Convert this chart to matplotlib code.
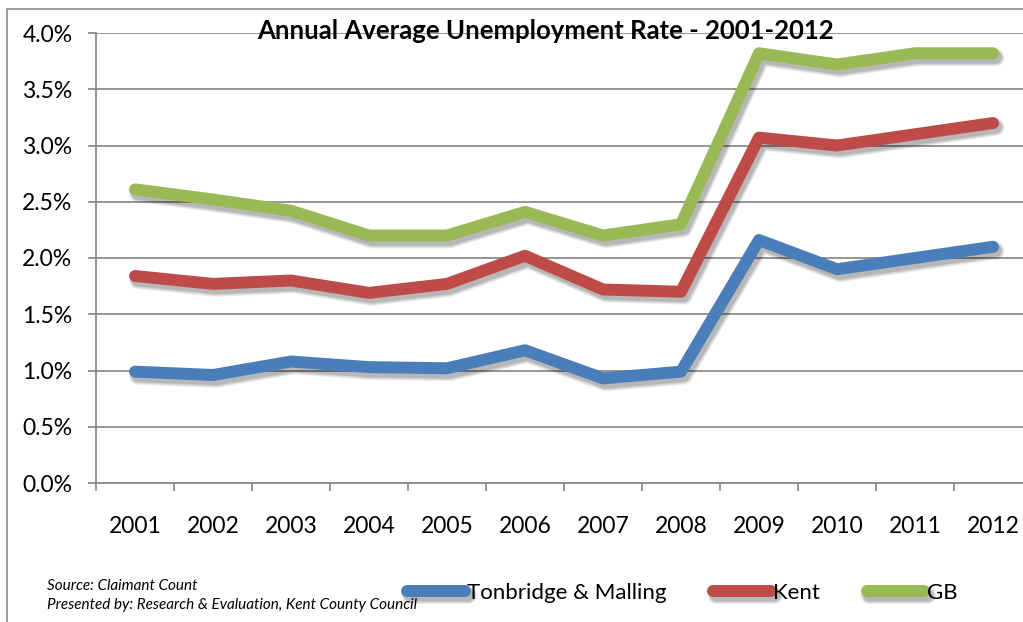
import matplotlib.pyplot as plt
import matplotlib.patheffects as pe
from matplotlib.patches import Rectangle
from matplotlib.ticker import FuncFormatter
import numpy as np

years = ["2001", "2002", "2003", "2004", "2005", "2006",
         "2007", "2008", "2009", "2010", "2011", "2012"]
tonbridge = [0.99, 0.96, 1.08, 1.03, 1.02, 1.18, 0.93, 0.99, 2.16, 1.90, 2.00, 2.10]
kent = [1.84, 1.77, 1.80, 1.69, 1.77, 2.02, 1.72, 1.70, 3.07, 3.00, 3.10, 3.20]
gb = [2.61, 2.52, 2.42, 2.20, 2.20, 2.41, 2.20, 2.30, 3.82, 3.72, 3.82, 3.82]

series = [("Tonbridge & Malling", tonbridge, "#4A7EBB"),
          ("Kent", kent, "#BE4B48"),
          ("GB", gb, "#98B954")]

plt.rcParams['font.family'] = ['Lato', 'DejaVu Sans']

W, H = 1023, 622
fig = plt.figure(figsize=(W / 100, H / 100), dpi=100)

# outer chart border (left and top visible)
fig.patches.append(Rectangle((7 / W, -0.05), 1.2, 1 - 9 / H + 0.05,
                             transform=fig.transFigure, fill=False,
                             edgecolor="#8C8C8C", linewidth=1.2))

ax = fig.add_axes([96 / W, (H - 483) / H, 936 / W, 450 / H])
x = np.arange(len(years))

lw = 8.6
# soft shadow: a few widening, faint copies offset down-right
shadow = [pe.SimpleLineShadow(offset=(2, -3), shadow_color="black", alpha=0.08,
                              linewidth=lw + w) for w in (4, 2.5, 1, 0)]
shadow.append(pe.Normal())
for name, vals, col in series:
    ax.plot(x, vals, color=col, linewidth=lw, solid_capstyle="round",
            solid_joinstyle="round", label=name, path_effects=shadow, zorder=3)

ax.set_xlim(-0.5, len(years) - 0.5)
ax.set_ylim(0, 4.0)
ax.set_yticks(np.arange(0, 4.01, 0.5))
ax.yaxis.set_major_formatter(FuncFormatter(lambda v, p: f"{v:.1f}%"))
ax.grid(axis="y", color="#8C8C8C", linewidth=1.3)
ax.set_axisbelow(True)

ax.set_xticks(x)
ax.set_xticklabels(years)
ax.set_xticks(np.arange(-0.5, len(years), 1.0), minor=True)
ax.tick_params(axis="x", which="major", length=0, pad=24, labelsize=16.5)
ax.tick_params(axis="x", which="minor", length=6, width=1.3, color="#8C8C8C")
ax.tick_params(axis="y", length=6, width=1.3, color="#8C8C8C", pad=11, labelsize=16.5)

for s in ["top", "right"]:
    ax.spines[s].set_visible(False)
for s in ["left", "bottom"]:
    ax.spines[s].set_color("#8C8C8C")
    ax.spines[s].set_linewidth(1.3)

fig.text(545 / W, 1 - 31 / H, "Annual Average Unemployment Rate - 2001-2012",
         ha="center", va="center", fontsize=18.5, fontweight="bold")

fig.text(47 / W, 1 - 586 / H, "Source: Claimant Count", fontsize=11,
         style="italic", va="center")
fig.text(47 / W, 1 - 605 / H, "Presented by: Research & Evaluation, Kent County Council",
         fontsize=11, style="italic", va="center")

fig.legend(loc="center left", bbox_to_anchor=(407 / W, 1 - 593 / H), ncol=3,
           frameon=False, fontsize=16, handlelength=2.6, handletextpad=0.1,
           columnspacing=2.1, borderpad=0, borderaxespad=0)

fig.savefig("out.png", dpi=100)
